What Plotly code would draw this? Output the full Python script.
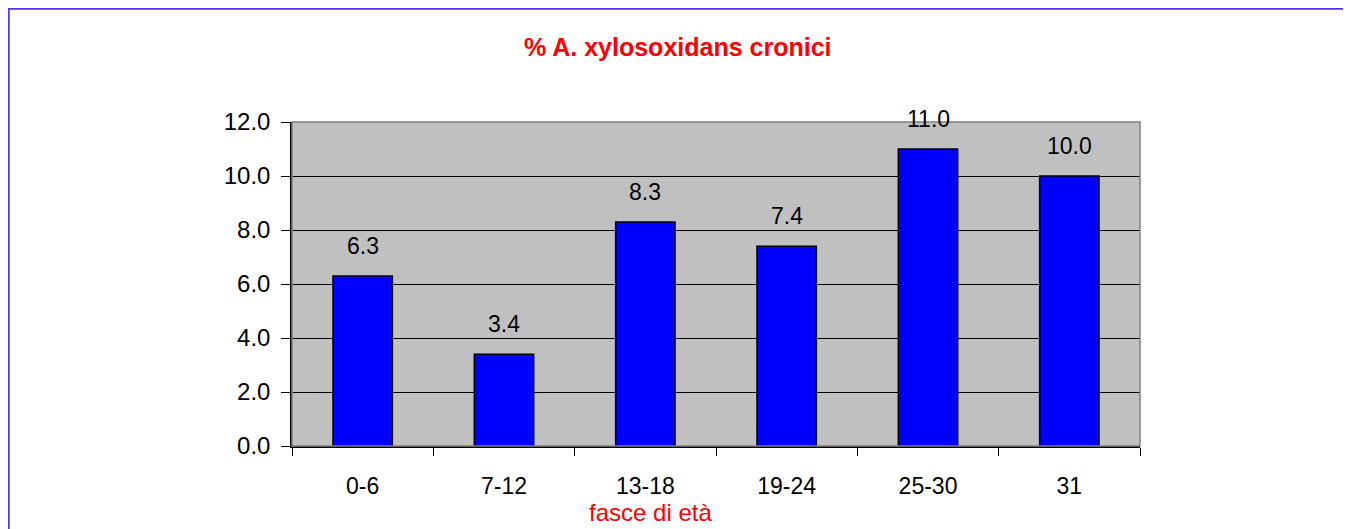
import plotly.graph_objects as go

categories = ["0-6", "7-12", "13-18", "19-24", "25-30", "31"]
values = [6.3, 3.4, 8.3, 7.4, 11.0, 10.0]
y_ticks = [0, 2, 4, 6, 8, 10, 12]
y_tick_labels = ["0.0", "2.0", "4.0", "6.0", "8.0", "10.0", "12.0"]

OFF = 8  # page body margin
W, H = 1351, 529
L, R, T, B = 292 - OFF, 1140 - OFF, 122 - OFF, 446 - OFF
pw, ph = R - L, B - T

def px_x(x):
    return (x - OFF - L) / pw

def px_y(y):
    return (B - (y - OFF)) / ph

FONT = "Liberation Sans, Arial"

fig = go.Figure()
fig.add_trace(go.Bar(
    x=list(range(len(categories))), y=values,
    marker=dict(color="#0000FF", line=dict(color="#000000", width=1.5)),
    width=0.42,
    hovertext=categories, hoverinfo="text+y",
))

for i, v in enumerate(values):
    fig.add_annotation(x=i, y=v, text=f"{v:.1f}", showarrow=False,
                       xref="x", yref="y",
                       yanchor="bottom", yshift=15,
                       font=dict(family=FONT, size=23, color="#000000"))

# plot area border (gray)
fig.add_shape(type="rect", xref="paper", yref="paper", x0=0, x1=1, y0=0, y1=1,
              line=dict(color="#808080", width=1.5), layer="above")
# outer frame
fig.add_shape(type="rect", xref="paper", yref="paper",
              x0=px_x(8.5), x1=px_x(1349), y0=px_y(545), y1=px_y(8.5),
              line=dict(color="#5533EE", width=2.5), layer="above")

fig.add_annotation(xref="paper", yref="paper", x=px_x(678), y=px_y(47),
                   text="<b>% A. xylosoxidans cronici</b>", showarrow=False,
                   xanchor="center", yanchor="middle",
                   font=dict(family=FONT, size=25, color="#FF0000"))
fig.add_annotation(xref="paper", yref="paper", x=px_x(650), y=px_y(512),
                   text="fasce di età", showarrow=False,
                   xanchor="center", yanchor="middle",
                   font=dict(family=FONT, size=24, color="#FF0000"))

fig.update_layout(
    width=W, height=H,
    margin=dict(l=L, r=W - R, t=T, b=H - B, pad=0),
    paper_bgcolor="#FFFFFF", plot_bgcolor="#C0C0C0",
    showlegend=False,
    font=dict(family=FONT, size=24, color="#000000"),
)
fig.update_xaxes(
    range=[-0.5, len(categories) - 0.5],
    tickvals=list(range(len(categories))), ticktext=categories,
    showgrid=False, showline=True, linecolor="#000000", linewidth=1.5,
    ticks="", zeroline=False,
    ticklabelstandoff=19,
    tickfont=dict(size=23, color="#000000"),
    minor=dict(tickvals=[i - 0.5 for i in range(len(categories) + 1)],
               ticks="outside", ticklen=8, tickcolor="#000000", showgrid=False),
)
fig.update_yaxes(
    range=[0, 12], tickvals=y_ticks, ticktext=y_tick_labels,
    showgrid=True, gridcolor="#000000", gridwidth=1,
    showline=True, linecolor="#000000", linewidth=1.5,
    ticks="outside", ticklen=9, tickcolor="#000000",
    ticklabelstandoff=6,
    tickfont=dict(size=24, color="#000000"),
    zeroline=False,
)

fig.write_html("out.html")
